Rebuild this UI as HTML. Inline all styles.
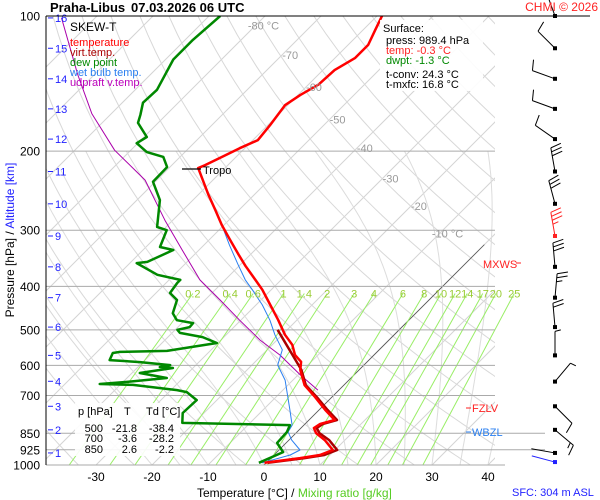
<!DOCTYPE html>
<html><head><meta charset="utf-8">
<style>
html,body{margin:0;padding:0;background:#fff;}
svg{display:block;font-family:"Liberation Sans",sans-serif;}
</style></head>
<body>
<svg id="chart" width="600" height="500" viewBox="0 0 600 500" xmlns="http://www.w3.org/2000/svg">
<defs>
<clipPath id="plotclip"><rect x="46" y="16" width="449" height="449"/></clipPath>
<clipPath id="mixclip"><rect x="46" y="290" width="490" height="175"/></clipPath>
</defs>
<rect x="0" y="0" width="600" height="500" fill="#fff"/>
<g id="grid" clip-path="url(#plotclip)"></g>
<g id="mix" clip-path="url(#mixclip)"></g>
<g id="isobars"></g>
<g id="series" clip-path="url(#plotclip)"></g>
<g id="labels"></g>
<g id="winds"></g>

<line x1="46" y1="16" x2="590" y2="16" stroke="#000" stroke-width="1"/>
<line x1="46" y1="16" x2="46" y2="465" stroke="#000" stroke-width="1"/>

<text x="50" y="12" font-size="13" font-weight="bold">Praha-Libus</text>
<text x="131" y="12" font-size="13" font-weight="bold">07.03.2026 06 UTC</text>
<text x="598" y="11" font-size="12" fill="#f22" text-anchor="end">CHMI © 2026</text>

<g>
<text x="70" y="31" font-size="12" fill="#000">SKEW-T</text>
<text x="70" y="46" font-size="11" fill="#f00">temperature</text>
<text x="70" y="56" font-size="11" fill="#a00">virt.temp.</text>
<text x="70" y="66" font-size="11" fill="#080">dew point</text>
<text x="70" y="76" font-size="11" fill="#2a7ff0">wet bulb temp.</text>
<text x="70" y="86" font-size="11" fill="#b0b">udpraft v.temp.</text>
</g>

<g>
<rect x="380" y="20" width="103" height="71" fill="#fff" opacity="0.9"/>
<text x="383" y="32" font-size="11">Surface:</text>
<text x="386" y="44" font-size="11">press: 989.4 hPa</text>
<text x="386" y="54" font-size="11" fill="#f22">temp: -0.3 °C</text>
<text x="386" y="64" font-size="11" fill="#080">dwpt: -1.3 °C</text>
<text x="386" y="78" font-size="11">t-conv: 24.3 °C</text>
<text x="386" y="88" font-size="11">t-mxfc: 16.8 °C</text>
</g>

<g>
<rect x="75" y="403" width="105" height="53" fill="#fff" opacity="0.9"/>
<text x="78" y="415" font-size="11">p [hPa]</text>
<text x="124" y="415" font-size="11">T</text>
<text x="146" y="415" font-size="11">Td [°C]</text>
<g font-size="11" text-anchor="end">
<text x="103" y="432">500</text><text x="137" y="432">-21.8</text><text x="174" y="432">-38.4</text>
<text x="103" y="442">700</text><text x="137" y="442">-3.6</text><text x="174" y="442">-28.2</text>
<text x="103" y="453">850</text><text x="137" y="453">2.6</text><text x="174" y="453">-2.2</text>
</g>
</g>

<text transform="translate(14,240) rotate(-90)" font-size="12" text-anchor="middle"><tspan fill="#000">Pressure [hPa]  /  </tspan><tspan fill="#22f">Altitude [km]</tspan></text>
<text x="197" y="497" font-size="12"><tspan fill="#000">Temperature [°C]  /  </tspan><tspan fill="#5c2">Mixing ratio [g/kg]</tspan></text>
<text x="512" y="496" font-size="11" fill="#22f">SFC: 304 m ASL</text>

<g>
<text x="483" y="268" font-size="11" fill="#f22">MXWS</text><line x1="516" y1="263" x2="521" y2="263" stroke="#f22"/>
<line x1="466" y1="408" x2="471" y2="408" stroke="#f22"/><text x="472" y="412" font-size="11" fill="#f22">FZLV</text>
<line x1="466" y1="432" x2="471" y2="432" stroke="#2a7ff0"/><text x="472" y="436" font-size="11" fill="#2a7ff0">WBZL</text>
<line x1="182" y1="169" x2="201" y2="169" stroke="#000" stroke-width="1.2"/><text x="203" y="174" font-size="11">Tropo</text>
</g>

<script>
// ---- data ----
const tempP = [989,965,950,926,880,849,827,810,794,754,706,664,614,589,569,540,513,475,429,407,387,360,340,315,292,270,250,232,218,215,207,197,189,175,158,150,142,132,124,116,107,100];
const tempT = [-0.3,5.2,8.2,9.6,6.4,3.6,2.3,2.7,4.6,1.1,-3.0,-7.0,-10.5,-11.8,-14.1,-16.4,-19.5,-23.4,-28.8,-31.6,-34.6,-38.9,-42.1,-46.3,-50.4,-54.3,-58.2,-61.8,-64.8,-64.1,-62.7,-60.9,-59.1,-59.6,-60.5,-59.6,-58.2,-57.9,-56.4,-56.4,-57.9,-59.1];
const virtP = [989,965,950,926,880,849,827,810,794,754,706,664,614,500];
const virtT = [0.3,6.0,9.0,10.4,7.2,4.2,2.8,3.2,5.0,1.5,-2.7,-6.8,-10.3,-21.7];
const dewP = [989,936,893,844,815,806,766,717,688,681,663,660,653,640,624,608,605,599,590,584,563,560,557,535,519,508,500,493,483,476,459,429,414,393,387,377,355,353,337,332,327,300,295,257,234,217,206,201,192,186,173,166,156,146,125,113,100];
const dewT = [-1.3,1.1,-1.6,-1.8,-2.5,-22.1,-23.8,-23.6,-26.8,-28.9,-37.7,-43.8,-39.3,-32.9,-38.6,-33.6,-36.1,-34.6,-40.5,-46.3,-47.0,-45.9,-37.7,-30.2,-33.8,-38.6,-39.6,-37.9,-38.0,-41.4,-43.4,-45.0,-47.5,-48.0,-48.0,-53.0,-58.8,-57.1,-55.2,-54.6,-57.5,-59.3,-61.6,-65.9,-70.4,-70.5,-73.0,-76.8,-80.2,-79.5,-83.6,-84.6,-86.3,-86.1,-88.6,-88.6,-88.0];
const wetP = [989,950,926,880,844,815,754,647,599,554,513,476,440,407,387,358,324,292];
const wetT = [-0.7,2.9,3.75,0.5,-1.6,-2.1,-5.2,-11.4,-15.4,-17.3,-21.3,-24.8,-28.9,-33.4,-36.4,-40.4,-45.4,-50.4];
const updP = [681,630,569,527,476,429,387,332,285,232,199,165,135,101];
const updT = [-3.75,-9.6,-16.8,-23.0,-30.2,-37.3,-44.5,-53.0,-61.4,-72.1,-82.9,-93.5,-103,-116];
const pressTicks = [100,200,300,400,500,600,700,850,925,1000];
const tempTicks = [-30,-20,-10,0,10,20,30,40];
const isoLabels = [-80,-70,-60,-50,-40,-30,-20,-10];
const isoLabelP = [105,122,144,170,197,230,265,305];
const mixValues = [0.2,0.4,0.6,1,1.4,2,3,4,6,8,10,12,14,17,20,25];
const mixLabels = ["0.2","0.4","0.6","1","1.4","2","3","4","6","8","10","12","14","17","20","25"];
const altKm = [16,15,14,13,12,11,10,9,8,7,6,5,4,3,2,1];
const altP = [101,118,138,161,188,222,262,309,362,424,493,570,651,740,835,940];
const windP = [100,118,138,161,188,222,262,309,362,424,493,570,652,740,835,940,985];
const windDir = [340,315,290,290,305,350,345,350,355,5,355,0,40,135,130,280,285];
const windSpd = [5,10,10,10,10,30,30,35,30,25,20,5,5,10,15,0,0];

// ---- axis functions ----
function yP(p){return 465-195*Math.log(1000/p);}
function xT(t,p){return 264+5.6*t+195*Math.log(1000/p);}
const NS="http://www.w3.org/2000/svg";
function mk(tag,attrs,parent){const e=document.createElementNS(NS,tag);for(const k in attrs)e.setAttribute(k,attrs[k]);parent.appendChild(e);return e;}
const grid=document.getElementById('grid'), mix=document.getElementById('mix'), isob=document.getElementById('isobars'),
 series=document.getElementById('series'), labels=document.getElementById('labels'), winds=document.getElementById('winds');

for(let t=-130;t<=50;t+=10){
  const l=mk('line',{x1:xT(t,1000),y1:465,x2:xT(t,100),y2:16,stroke:'#d4d4d4','stroke-width':1},grid);
  
  
}
for(let th=230;th<=480;th+=10){
  let d='';
  for(let p=1000;p>=100;p-=10){const t=th*Math.pow(p/1000,0.286)-273.15;d+=(d?'L':'M')+xT(t,p).toFixed(1)+','+yP(p).toFixed(1);}
  const a=mk('path',{d:d,fill:'none',stroke:'#d8d8d8','stroke-width':1},grid);
  
  
}
function es(t){return 6.112*Math.exp(17.67*t/(t+243.5));}
for(let t0=-20;t0<=40;t0+=5){
  let t=t0,d='';
  for(let p=1000;p>=200;p-=5){
    d+=(d?'L':'M')+xT(t,p).toFixed(1)+','+yP(p).toFixed(1);
    const T=t+273.15,e=es(t),r=0.622*e/(p-e),Lv=2.5e6;
    const g=(0.286*T+Lv*r/1004)/(1+0.622*Lv*Lv*r/(1004*287*T*T))/p;
    t-=g*5;
    if(t<-90)break;
  }
  const m=mk('path',{d:d,fill:'none',stroke:'#dcdcdc','stroke-width':1},grid);
  
  
}
function tdW(w,p){const e=w*p/(622+w);const L=Math.log(e/6.112);return 243.5*L/(17.67-L);}
mixValues.forEach((w,i)=>{
  const l=mk('line',{x1:xT(tdW(w,1000),1000),y1:465,x2:xT(tdW(w,415),415),y2:yP(415),stroke:'#9e6','stroke-width':1},mix);
  
  
  const tx=mk('text',{x:xT(tdW(w,415),415),y:yP(415)+4,'font-size':11,fill:'#9c3','text-anchor':'middle'},labels);
  tx.textContent=mixLabels[i];
  
  
});
const z=mk('line',{x1:xT(0,1000),y1:465,x2:xT(0,323),y2:yP(323),stroke:'#555','stroke-width':0.8},grid);


pressTicks.forEach(p=>{
  const ext=(p>=850)?545:495;
  if(p>100){const l=mk('line',{x1:46,y1:yP(p),x2:(p==1000?505:ext),y2:yP(p),stroke:'#aaa','stroke-width':1},isob);
  
  }
  const t=mk('text',{x:40,y:yP(p)+4.5,'font-size':12,'text-anchor':'end'},labels);
  t.textContent=p;
  
  
});
tempTicks.forEach(t=>{
  const tx=mk('text',{x:xT(t,1000),y:481,'font-size':12,'text-anchor':'middle'},labels);
  tx.textContent=t;
  
  
});
isoLabels.forEach((t,i)=>{
  const p=isoLabelP[i];
  const tx=mk('text',{x:xT(t,p)+8,y:yP(p)+4,'font-size':11,fill:'#999','text-anchor':'middle'},labels);
  tx.textContent=(t==-80||t==-10)?t+' °C':String(t);
  
  
});
altKm.forEach((k,i)=>{
  const y=yP(altP[i]);
  const l=mk('line',{x1:48,y1:y,x2:53,y2:y,stroke:'#22f','stroke-width':1},labels);
  
  
  const tx=mk('text',{x:55,y:y+4,'font-size':11,fill:'#22f'},labels);
  tx.textContent=k;
  
  
});
function line(P,T,color,w,name){
  const d=P.map((p,i)=>(i?'L':'M')+xT(T[i],p).toFixed(1)+','+yP(p).toFixed(1)).join('');
  const e=mk('path',{d:d,fill:'none',stroke:color,'stroke-width':w,'stroke-linejoin':'round'},series);
  
  
}
line(updP,updT,'#a0a',1,'updraft-line');
line(wetP,wetT,'#2a7ff0',1,'wet-bulb-line');
line(dewP,dewT,'#080',2.5,'dewpoint-line');
line(virtP,virtT,'#a00',2.5,'virtual-temp-line');
line(tempP,tempT,'#f00',2.5,'temperature-line');
windP.forEach((p,i)=>{
  const y=yP(p),x=555,a=windDir[i]*Math.PI/180,L=24;
  const c=(i==windP.length-1)?'#22f':(i==7?'#f22':'#000');
  const ex=x+Math.sin(a)*L,ey=y-Math.cos(a)*L;
  const g=mk('g',{},winds);
  
  
  mk('line',{x1:x,y1:y,x2:ex,y2:ey,stroke:c,'stroke-width':1},g);
  mk('rect',{x:x-2,y:y-2,width:4,height:4,fill:c},g);
  let s=windSpd[i],k=0;
  while(s>=5){
    const full=s>=10, len=full?11:6;
    const bx=x+Math.sin(a)*(L-k*4),by=y-Math.cos(a)*(L-k*4);
    const pa=a+Math.PI*0.42;
    mk('line',{x1:bx,y1:by,x2:bx+Math.sin(pa)*len,y2:by-Math.cos(pa)*len,stroke:c,'stroke-width':1},g);
    s-=full?10:5;k++;
  }
});
</script>
</svg>
</body></html>
